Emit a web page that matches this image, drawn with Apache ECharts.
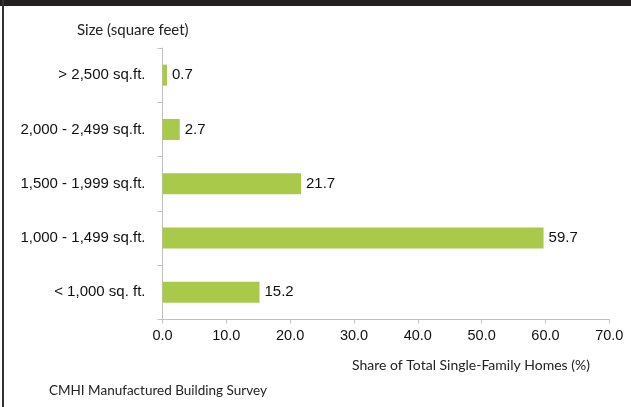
<!DOCTYPE html>
<html>
<head>
<meta charset="utf-8">
<script src="https://cdn.jsdelivr.net/npm/echarts@6/dist/echarts.min.js"></script>
<style>
  html, body { margin: 0; padding: 0; background: #fff; }
  #chart { width: 631px; height: 407px; }
</style>
</head>
<body>
<div id="chart"></div>
<script>
// size classes, top to bottom
const sizeClasses = ['> 2,500 sq.ft.', '2,000 - 2,499 sq.ft.', '1,500 - 1,999 sq.ft.', '1,000 - 1,499 sq.ft.', '< 1,000 sq. ft.'];
// share of total single-family homes (%)
const shareValues = [0.7, 2.7, 21.7, 59.7, 15.2];

const xAxisTitle = 'Share of Total Single-Family Homes (%)';
const yAxisTitle = 'Size (square feet)';
const sourceNote = 'CMHI Manufactured Building Survey';

const barColor = '#a8c94a';
const axisGray = '#c0c0c0';
const noteFont = 'Lato, "Open Sans", sans-serif';

const myChart = echarts.init(document.getElementById('chart'));

const option = {
    animation: false,
    grid: { left: 162.5, right: 21.7, top: 48, bottom: 87.5 },
    xAxis: {
        type: 'value',
        min: 0,
        max: 70,
        interval: 10,
        splitLine: { show: false },
        axisLine: { show: true, lineStyle: { color: axisGray, width: 1 } },
        axisTick: { show: true, length: 4, lineStyle: { color: axisGray } },
        axisLabel: {
            margin: 9,
            color: '#111',
            fontFamily: 'Liberation Sans, Arial, sans-serif',
            fontSize: 14.5,
            formatter: v => v.toFixed(1)
        }
    },
    yAxis: {
        type: 'category',
        inverse: true,
        data: sizeClasses,
        axisLine: { show: true, lineStyle: { color: axisGray, width: 1 } },
        axisTick: { show: true, length: 5, lineStyle: { color: axisGray } },
        axisLabel: {
            margin: 17,
            color: '#111',
            fontFamily: 'Liberation Sans, Arial, sans-serif',
            fontSize: 15
        }
    },
    series: [{
        type: 'bar',
        data: shareValues,
        barWidth: 21,
        itemStyle: { color: barColor },
        label: {
            show: true,
            position: 'right',
            distance: 5,
            color: '#111',
            fontFamily: 'Liberation Sans, Arial, sans-serif',
            fontSize: 15,
            formatter: p => p.value.toFixed(1)
        }
    }],
    graphic: [
        // dark frame bits: top band and left edge
        { type: 'rect', left: 0, top: 0, shape: { width: 631, height: 6 }, style: { fill: '#231f20' } },
        { type: 'rect', left: 2, top: 0, shape: { width: 2, height: 407 }, style: { fill: '#333' } },
        {
            type: 'text', left: 77, top: 23,
            style: { text: yAxisTitle, fill: '#222', font: '15px ' + noteFont }
        },
        {
            type: 'text', left: 352, top: 358,
            style: { text: xAxisTitle, fill: '#222', font: '14px ' + noteFont }
        },
        {
            type: 'text', left: 49, top: 384,
            style: { text: sourceNote, fill: '#222', font: '13.5px ' + noteFont }
        }
    ]
};

myChart.setOption(option);
</script>
</body>
</html>
